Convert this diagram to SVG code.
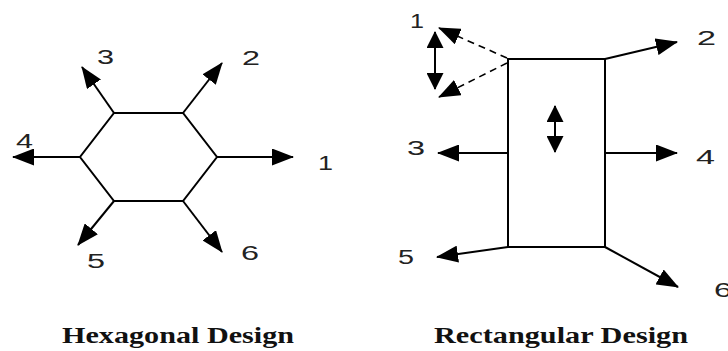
<svg xmlns="http://www.w3.org/2000/svg" width="728" height="351" viewBox="0 0 728 351">
<style>
.sh{fill:none;stroke:#000;stroke-width:2}
.c{stroke:#000;stroke-width:2;fill:none;marker-end:url(#ah)}
.ds{stroke:#000;stroke-width:1.6;fill:none;stroke-dasharray:7,5;marker-end:url(#ah)}
.n{font-family:"Liberation Sans",Arial,sans-serif;font-size:20px;fill:#222}
.t{font-family:"Liberation Serif","Times New Roman",serif;font-size:23px;font-weight:bold;fill:#111}
</style>
<defs>
<marker id="ah" markerUnits="userSpaceOnUse" markerWidth="22" markerHeight="17" refX="21" refY="8.5" orient="auto-start-reverse" viewBox="0 0 22 17">
<path d="M0,0 L22,8.5 L0,17 z" fill="#000"/>
</marker>
<marker id="sh" markerUnits="userSpaceOnUse" markerWidth="17" markerHeight="17" refX="16" refY="8.5" orient="auto-start-reverse" viewBox="0 0 17 17">
<path d="M0,0 L17,8.5 L0,17 z" fill="#000"/>
</marker>
</defs>
<rect width="728" height="351" fill="#fff"/>
<g id="hexagon">
<polygon class="sh" points="114,113 183,113 217,157 183,201 114,201 80,157"/>
</g>
<g id="rectangle">
<rect class="sh" x="508" y="59" width="97" height="188"/>
</g>
<g id="connectors">
<line class="c" x1="217" y1="157" x2="293" y2="157"/>
<line class="c" x1="80" y1="157" x2="13" y2="157"/>
<line class="c" x1="114" y1="113" x2="82" y2="67"/>
<line class="c" x1="183" y1="113" x2="222" y2="63"/>
<line class="c" x1="114" y1="201" x2="78" y2="245"/>
<line class="c" x1="183" y1="201" x2="222" y2="252"/>
<line class="c" x1="605" y1="59" x2="677" y2="42"/>
<line class="c" x1="508" y1="153" x2="438" y2="153"/>
<line class="c" x1="605" y1="153" x2="677" y2="153"/>
<line class="c" x1="508" y1="247" x2="437" y2="257"/>
<line class="c" x1="605" y1="247" x2="678" y2="287"/>
<line stroke="#000" stroke-width="2" marker-start="url(#sh)" marker-end="url(#sh)" x1="555" y1="106" x2="555" y2="152"/>
<line stroke="#000" stroke-width="2" marker-start="url(#sh)" marker-end="url(#sh)" x1="435" y1="32" x2="435" y2="89"/>
<line class="ds" x1="507" y1="58" x2="439" y2="28"/>
<line class="ds" x1="507" y1="63" x2="439" y2="97"/>
</g>
<g id="labels">
<text class="n" x="318" y="170" textLength="15" lengthAdjust="spacingAndGlyphs">1</text>
<text class="n" x="242" y="65" textLength="18" lengthAdjust="spacingAndGlyphs">2</text>
<text class="n" x="97" y="64" textLength="17" lengthAdjust="spacingAndGlyphs">3</text>
<text class="n" x="16" y="148" textLength="17" lengthAdjust="spacingAndGlyphs">4</text>
<text class="n" x="87" y="268" textLength="18" lengthAdjust="spacingAndGlyphs">5</text>
<text class="n" x="241" y="260" textLength="18" lengthAdjust="spacingAndGlyphs">6</text>
<text class="n" x="410" y="28" textLength="14" lengthAdjust="spacingAndGlyphs">1</text>
<text class="n" x="697" y="45" textLength="19" lengthAdjust="spacingAndGlyphs">2</text>
<text class="n" x="407" y="155" textLength="18" lengthAdjust="spacingAndGlyphs">3</text>
<text class="n" x="696" y="164" textLength="19" lengthAdjust="spacingAndGlyphs">4</text>
<text class="n" x="398" y="264" textLength="16" lengthAdjust="spacingAndGlyphs">5</text>
<text class="n" x="714" y="297" textLength="18" lengthAdjust="spacingAndGlyphs">6</text>
<text class="t" x="62" y="343" textLength="232" lengthAdjust="spacingAndGlyphs">Hexagonal Design</text>
<text class="t" x="434" y="343" textLength="254" lengthAdjust="spacingAndGlyphs">Rectangular Design</text>
</g>
</svg>
